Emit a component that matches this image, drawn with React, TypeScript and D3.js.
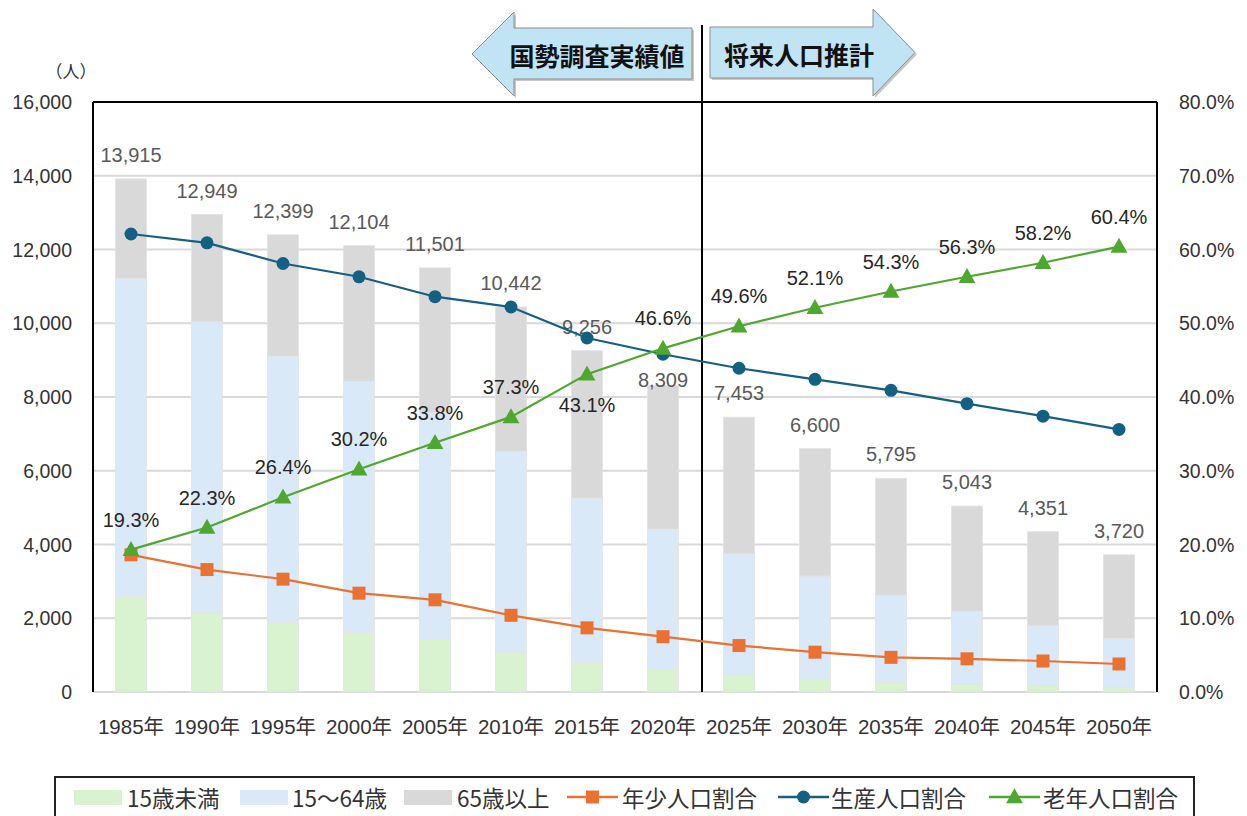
import React from "react";
import * as d3 from "d3";

// ---- data ----
const years = ["1985年", "1990年", "1995年", "2000年", "2005年", "2010年", "2015年", "2020年", "2025年", "2030年", "2035年", "2040年", "2045年", "2050年"];
const under15 = [2590, 2150, 1895, 1610, 1435, 1080, 805, 610, 455, 350, 260, 215, 182, 125];
const age15to64 = [8625, 7890, 7210, 6810, 6145, 5450, 4455, 3805, 3290, 2795, 2365, 1975, 1613, 1330];
const age65plus = [2700, 2909, 3294, 3684, 3921, 3912, 3996, 3894, 3708, 3455, 3170, 2853, 2556, 2265];
const youngRatio = [18.6, 16.6, 15.3, 13.4, 12.5, 10.4, 8.7, 7.5, 6.3, 5.4, 4.7, 4.5, 4.2, 3.8];
const workingRatio = [62.1, 60.9, 58.1, 56.3, 53.6, 52.2, 48.0, 45.8, 43.9, 42.4, 40.9, 39.1, 37.4, 35.6];
const elderlyRatio = [19.3, 22.3, 26.4, 30.2, 33.8, 37.3, 43.1, 46.6, 49.6, 52.1, 54.3, 56.3, 58.2, 60.4];
const leftTicks = [0, 2000, 4000, 6000, 8000, 10000, 12000, 14000, 16000];
const rightTicks = [0, 10, 20, 30, 40, 50, 60, 70, 80];

// ---- layout ----
const W = 1247, H = 816;
const L = 93, R = 1157, T = 102, B = 692;
const FONT = "'Liberation Sans', Arial, 'Noto Sans CJK JP', sans-serif";
const JFONT = "'Noto Sans CJK JP', 'Liberation Sans', sans-serif";
const C_GREEN_BAR = "#d9f2d0";
const C_BLUE_BAR = "#dae9f8";
const C_GRAY_BAR = "#d9d9d9";
const C_ORANGE = "#e97132";
const C_BLUE = "#156082";
const C_GREEN = "#4ea72e";
// label offsets (px) relative to the anchor
const totalLabelDy = [-24, -24, -24, -24, -24, -24, -24, -6, -24, -24, -24, -24, -24, -24];
const elderLabelDy = [-30, -30, -30, -30, -30, -30, 31, -30, -30, -30, -30, -30, -30, -30];

export default function App() {
  const x = d3.scaleBand<string>().domain(years).range([L, R]).paddingInner(0.59).paddingOuter(0.295);
  const yL = d3.scaleLinear().domain([0, 16000]).range([B, T]);
  const yR = d3.scaleLinear().domain([0, 80]).range([B, T]);
  const bw = x.bandwidth();
  const cx = (i: number) => (x(years[i]) as number) + bw / 2;
  const fmt = d3.format(",");

  const stackData = years.map((y, i) => ({ year: y, a: under15[i], b: age15to64[i], c: age65plus[i] }));
  const stack = d3.stack<any>().keys(["a", "b", "c"])(stackData);
  const barColors = [C_GREEN_BAR, C_BLUE_BAR, C_GRAY_BAR];

  const line = (vals: number[]) =>
    d3.line<number>().x((_, i) => cx(i)).y((v) => yR(v))(vals) as string;

  const tri = (px: number, py: number, s: number) =>
    `M${px},${py - s * 0.62}L${px + s * 0.6},${py + s * 0.45}L${px - s * 0.6},${py + s * 0.45}Z`;

  const divX = L + (R - L) * 8 / 14 + 1;

  const leftArrow = [
    [472, 54], [514, 12], [514, 28], [692, 28], [692, 79], [514, 79], [514, 96],
  ];
  const rightArrow = [
    [710, 27], [873, 27], [873, 9], [915, 52.5], [873, 96], [873, 78], [710, 78],
  ];
  const pts = (p: number[][], dx = 0, dy = 0) => p.map(([a, b]) => `${a + dx},${b + dy}`).join(" ");

  const legendY = 797;
  const legendItems = [
    { type: "bar", color: C_GREEN_BAR, x: 74, tx: 127, label: "15歳未満" },
    { type: "bar", color: C_BLUE_BAR, x: 240, tx: 292, label: "15～64歳" },
    { type: "bar", color: C_GRAY_BAR, x: 404, tx: 457, label: "65歳以上" },
    { type: "sq", color: C_ORANGE, x: 567, tx: 622, label: "年少人口割合" },
    { type: "circ", color: C_BLUE, x: 778, tx: 831, label: "生産人口割合" },
    { type: "tri", color: C_GREEN, x: 989, tx: 1043, label: "老年人口割合" },
  ];

  return (
    <div>
      <style>{`body{margin:0}`}</style>
      <svg width={W} height={H} style={{ display: "block", background: "#fff" }}>
        {/* gridlines */}
        {leftTicks.map((t) => (
          <line key={"g" + t} x1={L} x2={R} y1={yL(t)} y2={yL(t)} stroke="#d9d9d9" strokeWidth={2} />
        ))}
        {/* bars */}
        {stack.map((s, k) =>
          s.map((d, i) => (
            <rect key={k + "-" + i} x={x(years[i])} y={yL(d[1])} width={bw} height={yL(d[0]) - yL(d[1])}
              fill={barColors[k]} stroke="#e4e4e4" strokeWidth={0.8} />
          ))
        )}
        {/* frame */}
        <line x1={L} x2={R} y1={T} y2={T} stroke="#000" strokeWidth={2} />
        <line x1={L} x2={L} y1={T} y2={B} stroke="#000" strokeWidth={2} />
        <line x1={R} x2={R} y1={T} y2={B} stroke="#000" strokeWidth={2} />
        {/* divider */}
        <line x1={divX} x2={divX} y1={25} y2={B} stroke="#000" strokeWidth={2} />
        {/* total labels */}
        {stackData.map((d, i) => {
          const tot = d.a + d.b + d.c;
          return (
            <text key={"tl" + i} x={cx(i)} y={yL(tot) + totalLabelDy[i]} textAnchor="middle" dominantBaseline="central"
              fontFamily={FONT} fontSize={20} fill="#595959">{fmt(tot)}</text>
          );
        })}
        {/* lines */}
        <path d={line(youngRatio)} fill="none" stroke={C_ORANGE} strokeWidth={2.2} />
        {youngRatio.map((v, i) => (
          <rect key={"ys" + i} x={cx(i) - 6.5} y={yR(v) - 6.5} width={13} height={13} fill={C_ORANGE} />
        ))}
        <path d={line(workingRatio)} fill="none" stroke={C_BLUE} strokeWidth={2.2} />
        {workingRatio.map((v, i) => (
          <circle key={"wc" + i} cx={cx(i)} cy={yR(v)} r={6.5} fill={C_BLUE} />
        ))}
        <path d={line(elderlyRatio)} fill="none" stroke={C_GREEN} strokeWidth={2.2} />
        {elderlyRatio.map((v, i) => (
          <path key={"et" + i} d={tri(cx(i), yR(v), 14)} fill={C_GREEN} />
        ))}
        {elderlyRatio.map((v, i) => (
          <text key={"el" + i} x={cx(i)} y={yR(v) + elderLabelDy[i]} textAnchor="middle" dominantBaseline="central"
            fontFamily={FONT} fontSize={20} fill="#262626">{v.toFixed(1) + "%"}</text>
        ))}
        {/* left axis labels */}
        {leftTicks.map((t) => (
          <text key={"lt" + t} x={72} y={yL(t)} textAnchor="end" dominantBaseline="central"
            fontFamily={FONT} fontSize={19.5} fill="#333">{fmt(t)}</text>
        ))}
        <text x={71} y={70} textAnchor="middle" dominantBaseline="central" fontFamily={JFONT} fontSize={17} fill="#333">（人）</text>
        {/* right axis labels */}
        {rightTicks.map((t) => (
          <text key={"rt" + t} x={1179} y={yR(t)} textAnchor="start" dominantBaseline="central"
            fontFamily={FONT} fontSize={19.5} fill="#333">{t.toFixed(1) + "%"}</text>
        ))}
        {/* x labels */}
        {years.map((y, i) => (
          <text key={"xl" + i} x={cx(i)} y={726} textAnchor="middle" dominantBaseline="central"
            fontFamily={FONT} fontSize={20.5} fill="#333">{y}</text>
        ))}
        {/* arrows */}
        <polygon points={pts(leftArrow, 2, 2)} fill="#c8c8c8" />
        <polygon points={pts(leftArrow)} fill="#c1e4f5" stroke="#8c8c8c" strokeWidth={1} />
        <text x={597} y={55} textAnchor="middle" dominantBaseline="central" fontFamily={JFONT} fontWeight={700} fontSize={25} fill="#111">国勢調査実績値</text>
        <polygon points={pts(rightArrow, 2, 2)} fill="#c8c8c8" />
        <polygon points={pts(rightArrow)} fill="#c1e4f5" stroke="#8c8c8c" strokeWidth={1} />
        <text x={799} y={54} textAnchor="middle" dominantBaseline="central" fontFamily={JFONT} fontWeight={700} fontSize={25} fill="#111">将来人口推計</text>
        {/* legend */}
        <rect x={55} y={777} width={1139} height={60} fill="none" stroke="#222" strokeWidth={2} />
        {legendItems.map((it, i) => (
          <g key={"lg" + i}>
            {it.type === "bar" && <rect x={it.x} y={legendY - 7} width={48} height={15} fill={it.color} />}
            {it.type !== "bar" && <line x1={it.x} x2={it.x + 51} y1={legendY} y2={legendY} stroke={it.color} strokeWidth={2.5} />}
            {it.type === "sq" && <rect x={it.x + 25.5 - 6.5} y={legendY - 6.5} width={13} height={13} fill={it.color} />}
            {it.type === "circ" && <circle cx={it.x + 25.5} cy={legendY} r={6.5} fill={it.color} />}
            {it.type === "tri" && <path d={tri(it.x + 25.5, legendY, 14)} fill={it.color} />}
            <text x={it.tx} y={legendY} dominantBaseline="central" fontFamily={JFONT} fontSize={22.5} fill="#333">{it.label}</text>
          </g>
        ))}
      </svg>
    </div>
  );
}
